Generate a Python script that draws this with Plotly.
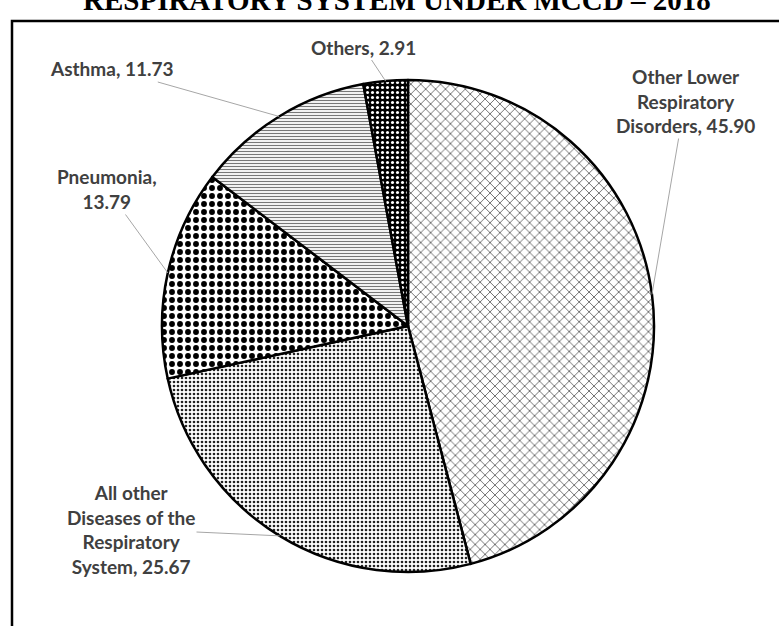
import numpy as np
import plotly.graph_objects as go

# Dados (percentual de óbitos por doenças do aparelho respiratório)
categories = [
    "Other Lower Respiratory Disorders",
    "All other Diseases of the Respiratory System",
    "Pneumonia",
    "Asthma",
    "Others",
]
values = [45.90, 25.67, 13.79, 11.73, 2.91]
label_names = [
    "Other Lower<br>Respiratory<br>Disorders",
    "All other<br>Diseases of the<br>Respiratory<br>System",
    "Pneumonia",
    "Asthma",
    "Others",
]
label_seps = [", ", ", ", ",<br>", ", ", ", "]

TITLE = "RESPIRATORY SYSTEM UNDER MCCD – 2018"

W, H = 779, 626
CX, CY, R = 408, 326, 246  # centro e raio da pizza em pixels

# posição dos rótulos (centro do texto, px)
_LABEL_POS = [(685, 101), (131, 529), (107, 189), (112, 69), (363, 47)]

_PATTERNS = dict(
    shape=["x", ".", ".", "-", "."],
    size=[7, 4, 8, 3, 5],
    solidity=[0.15, 0.35, 0.42, 0.4, 0.3],
    fgcolor=["black", "#222222", "black", "#777777", "white"],
    bgcolor=["white", "white", "white", "white", "black"],
    fillmode="replace",
)

fig = go.Figure(go.Pie(
    labels=categories,
    values=values,
    sort=False,
    direction="clockwise",
    rotation=0,
    textinfo="none",
    hoverinfo="label+value",
    marker=dict(
        colors=["white"] * len(values),
        line=dict(color="black", width=2.5),
        pattern=_PATTERNS,
    ),
    domain=dict(
        x=[(CX - R) / W, (CX + R) / W],
        y=[(H - CY - R) / H, (H - CY + R) / H],
    ),
))

# rótulos com linhas de chamada ligadas ao meio de cada fatia
total = sum(values)
cum = np.cumsum([0] + values[:-1])
annotations = []
for name, sep, v, c, (lx, ly) in zip(label_names, label_seps, values, cum, _LABEL_POS):
    theta = np.deg2rad(360 * (c + v / 2) / total)
    px = CX + R * np.sin(theta)
    py = CY - R * np.cos(theta)
    annotations.append(dict(
        x=px / W, y=1 - py / H, xref="paper", yref="paper",
        ax=lx - px, ay=ly - py,
        text=f"{name}{sep}{v:.2f}",
        showarrow=True, arrowhead=0, arrowwidth=1, arrowcolor="#A6A6A6",
        font=dict(family="Lato", size=19, color="#404040", weight="bold"),
        align="center",
    ))

annotations.append(dict(
    x=397 / W, y=1 - 18 / H, xref="paper", yref="paper",
    xanchor="center", yanchor="bottom", showarrow=False,
    text=TITLE,
    font=dict(family="Liberation Serif", size=29, color="black", weight="bold"),
))

fig.update_layout(
    width=W,
    height=H,
    margin=dict(l=0, r=0, t=0, b=0),
    paper_bgcolor="white",
    plot_bgcolor="white",
    showlegend=False,
    annotations=annotations,
    shapes=[dict(
        type="rect", xref="paper", yref="paper",
        x0=12 / W, x1=1.1, y0=-0.1, y1=1 - 21 / H,
        line=dict(color="black", width=2.5),
        layer="below",
    )],
)

# remove a margem padrão do <body> para a figura ocupar a janela inteira
fig.write_html(
    "out.html",
    config=dict(displayModeBar=False),
    post_script="document.body.style.margin='0';",
)
